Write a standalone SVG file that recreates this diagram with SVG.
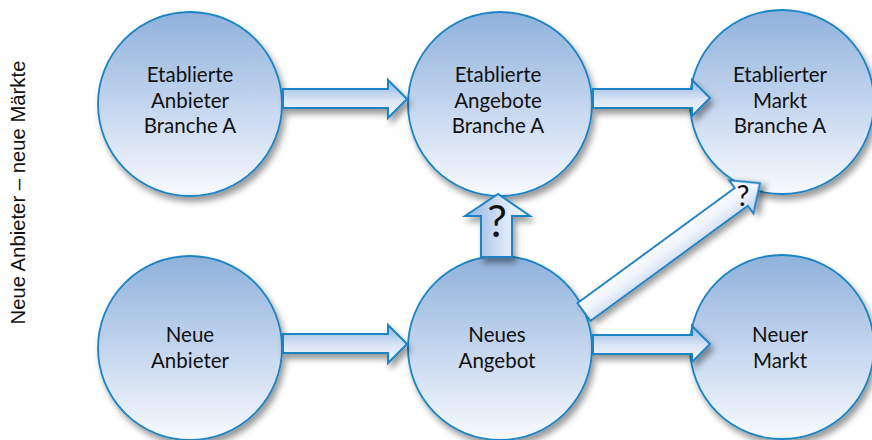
<svg xmlns="http://www.w3.org/2000/svg" width="872" height="440" viewBox="0 0 872 440">
<defs>
  <linearGradient id="gCircle" x1="0" y1="0" x2="0" y2="1">
    <stop offset="0" stop-color="#8fb1db"/>
    <stop offset="0.5" stop-color="#c3d5ee"/>
    <stop offset="1" stop-color="#f8fafe"/>
  </linearGradient>
  <linearGradient id="gArrowH" x1="0" y1="0" x2="0" y2="1">
    <stop offset="0" stop-color="#8fb3e0"/>
    <stop offset="0.55" stop-color="#dbe6f6"/>
    <stop offset="1" stop-color="#f7f9fe"/>
  </linearGradient>
  <linearGradient id="gArrowV" x1="0" y1="0" x2="1" y2="0">
    <stop offset="0" stop-color="#8fb3e0"/>
    <stop offset="0.6" stop-color="#d9e5f6"/>
    <stop offset="1" stop-color="#f7f9fe"/>
  </linearGradient>
  <linearGradient id="gArrowD" x1="0" y1="0" x2="0" y2="1">
    <stop offset="0" stop-color="#ffffff"/>
    <stop offset="0.5" stop-color="#f0f4fc"/>
    <stop offset="1" stop-color="#bcd0ee"/>
  </linearGradient>
  <filter id="shadow" x="-20%" y="-20%" width="150%" height="160%">
    <feDropShadow dx="3" dy="5" stdDeviation="3" flood-color="#000" flood-opacity="0.4"/>
  </filter>
</defs>
<style>
  .node circle { fill: url(#gCircle); stroke: #1c84c4; stroke-width: 1.8; filter: url(#shadow); }
  .lbl { font-family: Lato, "Open Sans", sans-serif; font-size: 20.5px; fill: #111; text-anchor: middle; }
  .arrow { stroke: #1c84c4; stroke-width: 2; stroke-linejoin: miter; filter: url(#shadow); }
  .q { font-family: Lato, "Open Sans", sans-serif; fill: #111; text-anchor: middle; }
</style>
<rect width="872" height="440" fill="#ffffff"/>

<text x="25" y="192.5" transform="rotate(-90 25 192.5)" font-family="'Liberation Sans', Arial, sans-serif" font-size="20.3" fill="#111" text-anchor="middle">Neue Anbieter – neue Märkte</text>

<g id="n1" class="node">
  <circle cx="190" cy="104" r="92"/>
  <text class="lbl" x="190" y="82">Etablierte</text>
  <text class="lbl" x="190" y="108">Anbieter</text>
  <text class="lbl" x="190" y="133">Branche A</text>
</g>
<g id="n2" class="node">
  <circle cx="500" cy="104" r="92"/>
  <text class="lbl" x="498" y="82">Etablierte</text>
  <text class="lbl" x="498" y="108">Angebote</text>
  <text class="lbl" x="498" y="133">Branche A</text>
</g>
<g id="n3" class="node">
  <circle cx="782" cy="102" r="92"/>
  <text class="lbl" x="780" y="82">Etablierter</text>
  <text class="lbl" x="780" y="108">Markt</text>
  <text class="lbl" x="780" y="133">Branche A</text>
</g>
<g id="n4" class="node">
  <circle cx="190" cy="348" r="92"/>
  <text class="lbl" x="190" y="342">Neue</text>
  <text class="lbl" x="190" y="368">Anbieter</text>
</g>
<g id="n5" class="node">
  <circle cx="500" cy="348" r="92"/>
  <text class="lbl" x="497" y="342">Neues</text>
  <text class="lbl" x="497" y="368">Angebot</text>
</g>
<g id="n6" class="node">
  <circle cx="782" cy="347" r="92"/>
  <text class="lbl" x="780" y="342">Neuer</text>
  <text class="lbl" x="780" y="368">Markt</text>
</g>

<g id="connectors">
  <polygon class="arrow" fill="url(#gArrowH)" points="283,89 388,89 388,80 407,99 388,118 388,108 283,108"/>
  <polygon class="arrow" fill="url(#gArrowH)" points="593,89 692,89 692,80 710,98 692,116 692,108 593,108"/>
  <polygon class="arrow" fill="url(#gArrowH)" points="283,334 388,334 388,325 407,344 388,363 388,353 283,353"/>
  <polygon class="arrow" fill="url(#gArrowH)" points="593,335 692,335 692,326 710,344 692,362 692,354 593,354"/>
  <polygon class="arrow" fill="url(#gArrowV)" points="481,257 481,216 465,216 498,194 530,216 512,216 512,257"/>
  <text class="q" x="497" y="237" font-size="44">?</text>
  <g transform="translate(584 312) rotate(-36.2)">
    <polygon class="arrow" fill="url(#gArrowD)" points="0,-11 195,-11 195,-20.5 218,0 195,20.5 195,11 0,11"/>
  </g>
  <text class="q" x="743" y="206" font-size="29">?</text>
</g>
</svg>
